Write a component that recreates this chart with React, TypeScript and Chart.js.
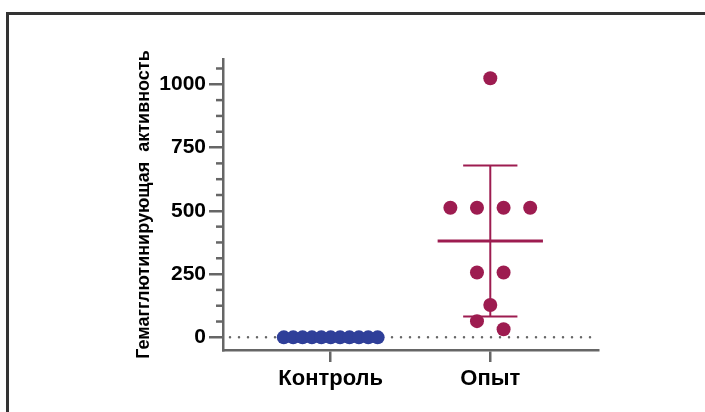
import React, { useEffect, useRef } from "react";
import { Chart, registerables } from "chart.js";

Chart.register(...registerables);

const categories = ["Контроль", "Опыт"];
const controlValues = [0, 0, 0, 0, 0, 0, 0, 0, 0, 0, 0];
const controlSlots = [-5, -4, -3, -2, -1, 0, 1, 2, 3, 4, 5];
const opytValues = [1024, 512, 512, 512, 512, 256, 256, 128, 64, 32];
const opytSlots = [0, -1.5, -0.5, 0.5, 1.5, -0.5, 0.5, 0, -0.5, 0.5];
const yMajorTicks = [0, 250, 500, 750, 1000];
const yTitle = "Гемагглютинирующая  активность";

const BLUE = "#2f3f99";
const CRIMSON = "#9d1c50";
const AXIS = "#666666";
const FONT = "'Liberation Sans', Arial, sans-serif";

const groups = [
  { values: controlValues, slots: controlSlots, slotWidth: 0.0588, color: BLUE },
  { values: opytValues, slots: opytSlots, slotWidth: 0.1667, color: CRIMSON },
];

function stats(v: number[]) {
  const n = v.length;
  const mean = v.reduce((a, b) => a + b, 0) / n;
  const sd = n > 1 ? Math.sqrt(v.reduce((a, b) => a + (b - mean) * (b - mean), 0) / (n - 1)) : 0;
  return { mean, sd };
}

const decorPlugin = {
  id: "decor",
  beforeDatasetsDraw(chart: any) {
    const { ctx, chartArea, scales } = chart;
    const x = scales.x;
    const y = scales.y;
    ctx.save();
    // minor ticks on y axis
    ctx.strokeStyle = AXIS;
    ctx.lineWidth = 2.5;
    for (let v = 62.5; v < y.max; v += 62.5) {
      if (v % 250 === 0) continue;
      const py = y.getPixelForValue(v);
      ctx.beginPath();
      ctx.moveTo(chartArea.left - 7, py);
      ctx.lineTo(chartArea.left, py);
      ctx.stroke();
    }
    // dotted zero line
    const y0 = y.getPixelForValue(0);
    ctx.setLineDash([0, 9]);
    ctx.lineCap = "round";
    ctx.lineWidth = 2.5;
    ctx.beginPath();
    ctx.moveTo(chartArea.left + 7, y0);
    ctx.lineTo(chartArea.right, y0);
    ctx.stroke();
    ctx.setLineDash([]);
    ctx.lineCap = "butt";
    // mean ± SD
    groups.forEach((g, i) => {
      const c = i + 1;
      const { mean, sd } = stats(g.values);
      const cx = x.getPixelForValue(c);
      ctx.strokeStyle = g.color;
      ctx.lineWidth = 3;
      ctx.beginPath();
      ctx.moveTo(x.getPixelForValue(c - 0.33), y.getPixelForValue(mean));
      ctx.lineTo(x.getPixelForValue(c + 0.33), y.getPixelForValue(mean));
      ctx.stroke();
      ctx.lineWidth = 2;
      ctx.beginPath();
      ctx.moveTo(cx, y.getPixelForValue(mean + sd));
      ctx.lineTo(cx, y.getPixelForValue(mean - sd));
      ctx.stroke();
      [mean + sd, mean - sd].forEach((v) => {
        ctx.beginPath();
        ctx.moveTo(x.getPixelForValue(c - 0.17), y.getPixelForValue(v));
        ctx.lineTo(x.getPixelForValue(c + 0.17), y.getPixelForValue(v));
        ctx.stroke();
      });
    });
    ctx.restore();
  },
};

export default function App() {
  const ref = useRef<HTMLCanvasElement>(null);
  useEffect(() => {
    document.body.style.margin = "0";
    const datasets = groups.map((g, i) => ({
      type: "scatter" as const,
      data: g.values.map((v, k) => ({ x: i + 1 + g.slots[k] * g.slotWidth, y: v })),
      backgroundColor: g.color,
      borderWidth: 0,
      pointRadius: 7,
      pointHoverRadius: 7,
    }));
    const chart = new Chart(ref.current as HTMLCanvasElement, {
      type: "scatter",
      data: { datasets },
      plugins: [decorPlugin],
      options: {
        animation: false,
        responsive: false,
        events: [],
        layout: { padding: { left: 0, top: 59, right: 107, bottom: 12 } },
        plugins: { legend: { display: false }, tooltip: { enabled: false } },
        scales: {
          x: {
            type: "linear",
            min: 0.325,
            max: 2.675,
            afterBuildTicks: (s: any) => {
              s.ticks = categories.map((_, i) => ({ value: i + 1 }));
            },
            afterFit: (s: any) => {
              s.height = 50;
              s.paddingLeft = 0;
              s.paddingRight = 0;
            },
            ticks: {
              callback: (v: any) => categories[Number(v) - 1],
              font: { family: FONT, size: 22, weight: "bold" },
              color: "#000",
              padding: 4,
              maxRotation: 0,
              autoSkip: false,
            },
            grid: { drawOnChartArea: false, tickLength: 12, color: AXIS, lineWidth: 2.5 },
            border: { display: true, color: AXIS, width: 2.5 },
          },
          y: {
            type: "linear",
            min: -50,
            max: 1100,
            afterBuildTicks: (s: any) => {
              s.ticks = yMajorTicks.map((v) => ({ value: v }));
            },
            afterFit: (s: any) => {
              s.width = 223;
            },
            ticks: {
              callback: (v: any) => String(v),
              font: { family: FONT, size: 21, weight: "bold" },
              color: "#000",
              padding: 3,
              autoSkip: false,
            },
            grid: { drawOnChartArea: false, tickLength: 14, color: AXIS, lineWidth: 2.5 },
            border: { display: true, color: AXIS, width: 2.5 },
            title: {
              display: true,
              text: yTitle,
              font: { family: FONT, size: 18, weight: "bold" },
              color: "#000",
              padding: { top: 133, bottom: 0 },
            },
          },
        },
      },
    });
    return () => chart.destroy();
  }, []);
  return (
    <div style={{ position: "fixed", left: 0, top: 0, width: 705, height: 412, background: "#fff" }}>
      <div
        style={{
          position: "absolute",
          left: 6,
          top: 12,
          width: 705,
          height: 412,
          borderTop: "3px solid #333",
          borderLeft: "3px solid #333",
        }}
      />
      <canvas ref={ref} width={705} height={412} style={{ position: "absolute", left: 0, top: 0 }} />
    </div>
  );
}
